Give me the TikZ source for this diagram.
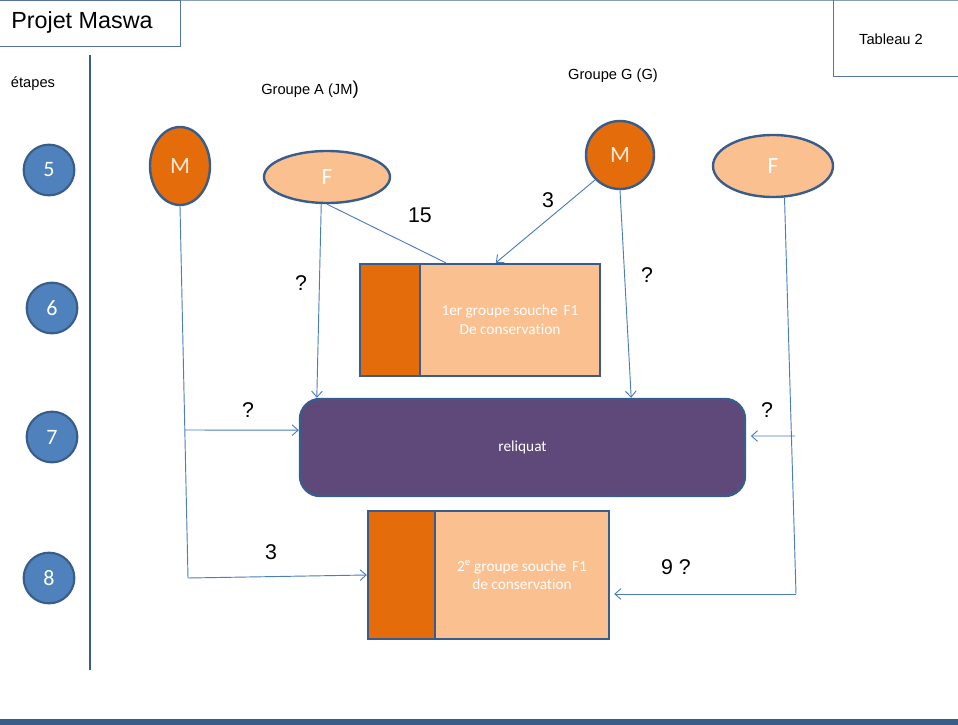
\documentclass[tikz,border=0pt]{standalone}
\usepackage{fontspec}
\setmainfont{Liberation Sans}
\newfontfamily\calfnt[Ligatures=NoCommon]{Carlito}
\usetikzlibrary{shapes.geometric,arrows.meta}
\definecolor{bord}{HTML}{385D8A}
\definecolor{lin}{HTML}{4A7EBB}
\definecolor{dorange}{HTML}{E46C0A}
\definecolor{lorange}{HTML}{FAC090}
\definecolor{purp}{HTML}{5F497A}
\definecolor{stepblue}{HTML}{4F81BD}
\definecolor{txtw}{HTML}{FDEADA}
\tikzset{
  stepcirc/.style={circle,draw=bord,line width=1.6pt,fill=stepblue,minimum size=38pt,inner sep=0pt,text=white,font=\calfnt\fontsize{16.5}{16.5}\selectfont},
  mnode/.style={ellipse,draw=bord,line width=1.8pt,fill=dorange,inner sep=0pt,text=txtw,font=\calfnt\fontsize{17.5}{17.5}\selectfont},
  fnode/.style={ellipse,draw=bord,line width=1.8pt,fill=lorange,inner sep=0pt,text=white,font=\calfnt\fontsize{17.5}{17.5}\selectfont},
  darkbox/.style={rectangle,draw=bord,line width=1.8pt,fill=dorange,inner sep=0pt},
  lightbox/.style={rectangle,draw=bord,line width=1.8pt,fill=lorange,inner sep=0pt,text=white,align=center,font=\calfnt\fontsize{11.5}{14}\selectfont},
  conn/.style={draw=lin,line width=0.7pt},
  arr/.style={conn,-{Straight Barb[length=4.5pt,width=8pt]}},
  lab/.style={font=\fontsize{16}{16}\selectfont,inner sep=0pt},
  plain/.style={font=\fontsize{11}{11}\selectfont,inner sep=0pt}
}
\begin{document}
\begin{tikzpicture}[x=0.75pt,y=-0.75pt]
\useasboundingbox (0,0) rectangle (958,725);
% frame elements
\draw[color=bord!60,line width=0.6pt] (0,0.5) -- (958,0.5);
\draw[color=bord!85,line width=0.7pt] (-2,0.5) rectangle (180,46);
\node[font=\fontsize{17.5}{17.5}\selectfont,anchor=west,inner sep=0pt] (title) at (11,22) {Projet Maswa};
\draw[color=bord!85,line width=0.7pt] (833,0) -- (833,76) -- (960,76);
\node[plain] (tab) at (891,39) {Tableau 2};
\draw[color=bord,line width=0.8pt] (90,55) -- (90,670);
\fill[bord] (0,719) rectangle (958,725);
\node[plain] (etapes) at (33,84) {étapes};
% step circles
\node[stepcirc] (s5) at (49,170) {5};
\node[stepcirc] (s6) at (52,308) {6};
\node[stepcirc] (s7) at (52,437) {7};
\node[stepcirc] (s8) at (49,578) {8};
% group headers
\node[plain] (ga) at (310,90) {Groupe A (JM{\fontsize{14}{14}\selectfont)}};
\node[plain] (gg) at (613,76) {Groupe G (G)};
% parents
\node[mnode,minimum width=45pt,minimum height=58.5pt] (Ml) at (180,166) {M};
\node[fnode,minimum width=94.5pt,minimum height=39pt] (Fl) at (327,177) {F};
\node[mnode,circle,minimum size=51pt] (Mr) at (620,155) {M};
\node[fnode,minimum width=90pt,minimum height=46.5pt] (Fr) at (773,166) {F};
% box 1
\node[darkbox,minimum width=45pt,minimum height=84pt] (b1d) at (390,320) {};
\node[lightbox,minimum width=135pt,minimum height=84pt] (b1) at (510,320) {1er groupe souche\, F1\\De conservation};
% reliquat
\node[rectangle,rounded corners=15pt,draw=bord,line width=1.8pt,fill=purp,minimum width=333.75pt,minimum height=72.75pt,text=white,font=\calfnt\fontsize{11.5}{11.5}\selectfont] (rel) at (522.5,447.5) {reliquat};
% box 2
\node[darkbox,minimum width=50.25pt,minimum height=96pt] (b2d) at (401.5,575) {};
\node[lightbox,minimum width=130.5pt,minimum height=96pt] (b2) at (522,575) {2\textsuperscript{e} groupe souche\, F1\\de conservation};
% coordinates
\coordinate (cm8) at (188,578);
\coordinate (cm7) at (185,430);
\coordinate (cf8) at (796,594);
\coordinate (cf7) at (795,436);
% connectors
\draw[conn] (Ml.south) -- (cm8);
\draw[arr] (cm8) -- (b2d.west);
\draw[arr] (cm7) -- ([yshift=13pt]rel.west);
\draw[arr] (Fl.258) -- ([xshift=13.5pt]rel.north west);
\draw[conn] (Fl.south) -- ([xshift=20.25pt]b1.north west);
\draw[arr] (Mr.225) -- ([xshift=57.75pt]b1.north west);
\draw[arr] (Mr.south) -- ([xshift=-86.25pt]rel.north east);
\draw[conn] (Fr.290) -- (cf8);
\draw[arr,shorten >=3pt] (cf8) -- ([yshift=-14.25pt]b2.east);
\draw[arr,shorten >=3.5pt] (cf7) -- ([yshift=8.6pt]rel.east);
% labels
\node[lab] (l15) at (420,215) {15};
\node[lab] (l3a) at (548,200) {3};
\node[lab] (q1) at (301,283) {?};
\node[lab] (q2) at (647,275) {?};
\node[lab] (q3) at (248,410) {?};
\node[lab] (q4) at (767,410) {?};
\node[lab] (l3b) at (271,552) {3};
\node[lab] (l9) at (676,567) {9 ?};
\end{tikzpicture}
\end{document}
